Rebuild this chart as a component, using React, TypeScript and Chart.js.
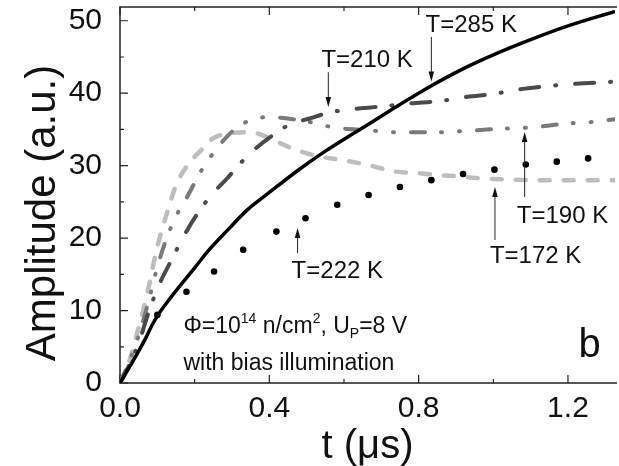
import React, { useEffect, useRef } from "react";
import { Chart, registerables } from "chart.js";

Chart.register(...registerables);

// ---- axis ticks ----
const xTickValues = [0, 0.4, 0.8, 1.2];
const xMinorValues = [0.2, 0.6, 1.0];
const yTickValues = [0, 10, 20, 30, 40, 50];
const yMinorValues = [5, 15, 25, 35, 45];
const xMax = 1.326;
const yMax = 51.9;
const xTitle = "t (\u03BCs)";
const yTitle = "Amplitude (a.u.)";

// ---- series ----
const t285 = [0, 0.03, 0.05, 0.071, 0.085, 0.102, 0.13, 0.159, 0.2, 0.239, 0.29, 0.341, 0.4, 0.478, 0.55, 0.611, 0.656, 0.739, 0.833, 0.92, 1.0, 1.1, 1.2, 1.326];
const a285 = [0, 2.6, 4.4, 6.4, 7.9, 9.4, 11.4, 13.3, 15.9, 18.4, 21.2, 23.9, 26.3, 29.4, 32.0, 34.0, 35.4, 38.1, 41.0, 43.4, 45.3, 47.4, 49.3, 51.3];

const t222 = [0.1, 0.178, 0.252, 0.33, 0.419, 0.497, 0.582, 0.666, 0.75, 0.834, 0.919, 1.003, 1.087, 1.17, 1.254];
const a222 = [9.4, 12.6, 15.4, 18.4, 20.9, 22.75, 24.6, 25.95, 27.05, 28.0, 28.85, 29.45, 30.15, 30.55, 31.0];

const t210 = [0, 0.025, 0.05, 0.075, 0.1, 0.133, 0.18, 0.23, 0.26, 0.288, 0.32, 0.355, 0.412, 0.452, 0.513, 0.558, 0.603, 0.664, 0.707, 0.78, 0.855, 0.93, 1.0, 1.08, 1.15, 1.22, 1.326];
const a210 = [0, 2.5, 5.5, 9.5, 13, 16.5, 21.1, 25.0, 26.8, 28.3, 30.2, 32.0, 34.3, 35.6, 36.6, 37.3, 37.7, 38.0, 38.2, 38.6, 38.9, 39.5, 39.9, 40.6, 41.0, 41.3, 41.6];

const t190 = [0, 0.025, 0.05, 0.075, 0.1, 0.125, 0.15, 0.18, 0.22, 0.26, 0.3, 0.35, 0.4, 0.45, 0.52, 0.57, 0.66, 0.75, 0.84, 0.93, 1.02, 1.11, 1.19, 1.26, 1.326];
const a190 = [0, 3, 6.5, 11, 16, 20, 23, 25.7, 29.5, 32.4, 34.7, 36.3, 36.7, 36.5, 35.9, 35.3, 34.9, 34.6, 34.6, 34.8, 35.1, 35.3, 35.8, 36.0, 36.4];

const t172 = [0, 0.025, 0.048, 0.06, 0.075, 0.09, 0.106, 0.128, 0.15, 0.186, 0.213, 0.25, 0.3, 0.332, 0.364, 0.4, 0.46, 0.53, 0.593, 0.664, 0.736, 0.79, 0.855, 0.91, 0.98, 1.045, 1.1, 1.2, 1.326];
const a172 = [0, 3, 7.3, 9.6, 12.8, 16.5, 20.0, 23.8, 27.3, 30.4, 31.9, 33.8, 34.5, 34.6, 34.5, 33.8, 32.4, 31.3, 30.8, 30.1, 29.2, 29.0, 28.7, 28.5, 28.2, 28.1, 28.0, 28.0, 28.0];

// ---- annotations (data coordinates) ----
const labelTexts = ["T=285 K", "T=210 K", "T=190 K", "T=172 K", "T=222 K"];
const labelX = [0.8185, 0.5395, 1.063, 0.991, 0.4597];
const labelY = [48.45, 43.6, 22.08, 16.56, 14.49];
const arrowX = [0.834, 0.558, 1.084, 1.0045, 0.4757];
const arrowFrom = [47.76, 42.9, 25.67, 19.74, 17.94];
const arrowTo = [41.6, 38.1, 34.64, 27.05, 21.39];

const FONT = "'Liberation Sans', Arial, sans-serif";

const zip = (t: number[], a: number[]) => t.map((v, i) => ({ x: v, y: a[i] }));

const framePlugin = {
  id: "frame",
  beforeDatasetsDraw(chart: any) {
    const { ctx, chartArea: ca, scales } = chart;
    const xs = scales.x, ys = scales.y;
    ctx.save();
    ctx.strokeStyle = "#222";
    ctx.lineWidth = 1.5;
    ctx.beginPath();
    ctx.moveTo(ca.right + 2, ca.top);
    ctx.lineTo(ca.left, ca.top);
    ctx.lineTo(ca.left, ca.bottom);
    ctx.lineTo(ca.right + 2, ca.bottom);
    ctx.stroke();
    ctx.lineWidth = 1.2;
    ctx.beginPath();
    const xt = (v: number, len: number) => {
      const p = xs.getPixelForValue(v);
      ctx.moveTo(p, ca.bottom);
      ctx.lineTo(p, ca.bottom - len);
      ctx.moveTo(p, ca.top);
      ctx.lineTo(p, ca.top + len);
    };
    xTickValues.forEach((v) => xt(v, 8));
    xMinorValues.forEach((v) => xt(v, 4));
    const yt = (v: number, len: number) => {
      const p = ys.getPixelForValue(v);
      ctx.moveTo(ca.left, p);
      ctx.lineTo(ca.left + len, p);
    };
    yTickValues.forEach((v) => yt(v, 8));
    yMinorValues.forEach((v) => yt(v, 4));
    ctx.stroke();

    // y axis title (rotated)
    ctx.fillStyle = "#111";
    ctx.font = `42px ${FONT}`;
    ctx.textAlign = "center";
    ctx.textBaseline = "alphabetic";
    ctx.translate(55, 213);
    ctx.rotate(-Math.PI / 2);
    ctx.fillText(yTitle, 0, 0);
    ctx.restore();
  },
};

const annotationPlugin = {
  id: "annot",
  afterDatasetsDraw(chart: any) {
    const { ctx, scales } = chart;
    const px = (v: number) => scales.x.getPixelForValue(v);
    const py = (v: number) => scales.y.getPixelForValue(v);
    ctx.save();
    ctx.fillStyle = "#111";
    ctx.strokeStyle = "#222";
    ctx.textBaseline = "alphabetic";
    ctx.textAlign = "left";
    ctx.font = `24px ${FONT}`;
    labelTexts.forEach((txt, i) => {
      ctx.fillText(txt, px(labelX[i]), py(labelY[i]));
      const x = px(arrowX[i]);
      const y0 = py(arrowFrom[i]);
      const y1 = py(arrowTo[i]);
      const dir = y1 > y0 ? 1 : -1;
      ctx.lineWidth = 1;
      ctx.beginPath();
      ctx.moveTo(x, y0);
      ctx.lineTo(x, y1 - dir * 6);
      ctx.stroke();
      ctx.beginPath();
      ctx.moveTo(x, y1);
      ctx.lineTo(x - 2.8, y1 - dir * 10);
      ctx.lineTo(x + 2.8, y1 - dir * 10);
      ctx.closePath();
      ctx.fill();
    });

    // condition text
    let x = px(0.17);
    const yb = py(6.9);
    const big = `23px ${FONT}`;
    const small = `14px ${FONT}`;
    const seg = (s: string, font: string, dy: number) => {
      ctx.font = font;
      ctx.fillText(s, x, yb + dy);
      x += ctx.measureText(s).width;
    };
    seg("\u03A6=10", big, 0);
    seg("14", small, -10);
    seg(" n/cm", big, 0);
    seg("2", small, -10);
    seg(", U", big, 0);
    seg("P", small, 5);
    seg("=8 V", big, 0);
    ctx.font = big;
    ctx.fillText("with bias illumination", px(0.17), py(1.79));

    ctx.font = `40px ${FONT}`;
    ctx.fillText("b", px(1.228), py(3.59));
    ctx.restore();
  },
};

export default function App() {
  const ref = useRef<HTMLCanvasElement>(null);
  useEffect(() => {
    const chart = new Chart(ref.current as HTMLCanvasElement, {
      type: "line",
      data: {
        datasets: [
          {
            label: "T=285 K",
            data: zip(t285, a285),
            borderColor: "#000",
            borderWidth: 3.5,
            pointRadius: 0,
            cubicInterpolationMode: "monotone",
          },
          {
            label: "T=222 K",
            data: zip(t222, a222),
            showLine: false,
            pointRadius: 3.3,
            pointBorderWidth: 0,
            pointBackgroundColor: "#000",
            borderColor: "#000",
          },
          {
            label: "T=210 K",
            data: zip(t210, a210),
            borderColor: "#4a4a4a",
            borderWidth: 4,
            borderDash: [19, 16, 1, 19],
            borderCapStyle: "round",
            pointRadius: 0,
            cubicInterpolationMode: "monotone",
          },
          {
            label: "T=190 K",
            data: zip(t190, a190),
            borderColor: "#7a7a7a",
            borderWidth: 4,
            borderDash: [14, 16, 1, 17, 1, 17],
            borderCapStyle: "round",
            pointRadius: 0,
            cubicInterpolationMode: "monotone",
          },
          {
            label: "T=172 K",
            data: zip(t172, a172),
            borderColor: "#bdbdbd",
            borderWidth: 4.5,
            borderDash: [10, 14],
            borderCapStyle: "round",
            pointRadius: 0,
            cubicInterpolationMode: "monotone",
          },
        ] as any,
      },
      options: {
        animation: false,
        responsive: false,
        devicePixelRatio: 1,
        layout: { padding: { left: 0, right: 0, top: 7, bottom: 0 } },
        plugins: { legend: { display: false }, tooltip: { enabled: false } },
        scales: {
          x: {
            type: "linear",
            min: 0,
            max: xMax,
            grid: { display: false },
            border: { display: false },
            afterBuildTicks: (s: any) => {
              s.ticks = xTickValues.map((v) => ({ value: v }));
            },
            afterFit: (s: any) => {
              s.height = 83;
              s.paddingLeft = 0;
              s.paddingRight = 0;
            },
            ticks: {
              padding: 0,
              color: "#111",
              font: { family: FONT, size: 30 },
              maxRotation: 0,
              callback: (v: any) => Number(v).toFixed(1),
            },
            title: {
              display: true,
              text: xTitle,
              color: "#111",
              font: { family: FONT, size: 40 },
              padding: { top: 0, bottom: -5 },
            },
          },
          y: {
            type: "linear",
            min: 0,
            max: yMax,
            grid: { display: false },
            border: { display: false },
            afterBuildTicks: (s: any) => {
              s.ticks = yTickValues.map((v) => ({ value: v }));
            },
            afterFit: (s: any) => {
              s.width = 120;
              s.paddingTop = 0;
              s.paddingBottom = 0;
            },
            ticks: {
              padding: 10,
              color: "#111",
              font: { family: FONT, size: 30 },
              callback: (v: any) => String(v),
            },
            title: { display: false },
          },
        },
      },
      plugins: [framePlugin, annotationPlugin],
    } as any);
    return () => chart.destroy();
  }, []);
  return (
    <div style={{ position: "absolute", left: 0, top: 0, width: 619, height: 466, background: "#fff" }}>
      <canvas ref={ref} width={619} height={466} style={{ display: "block" }} />
    </div>
  );
}
